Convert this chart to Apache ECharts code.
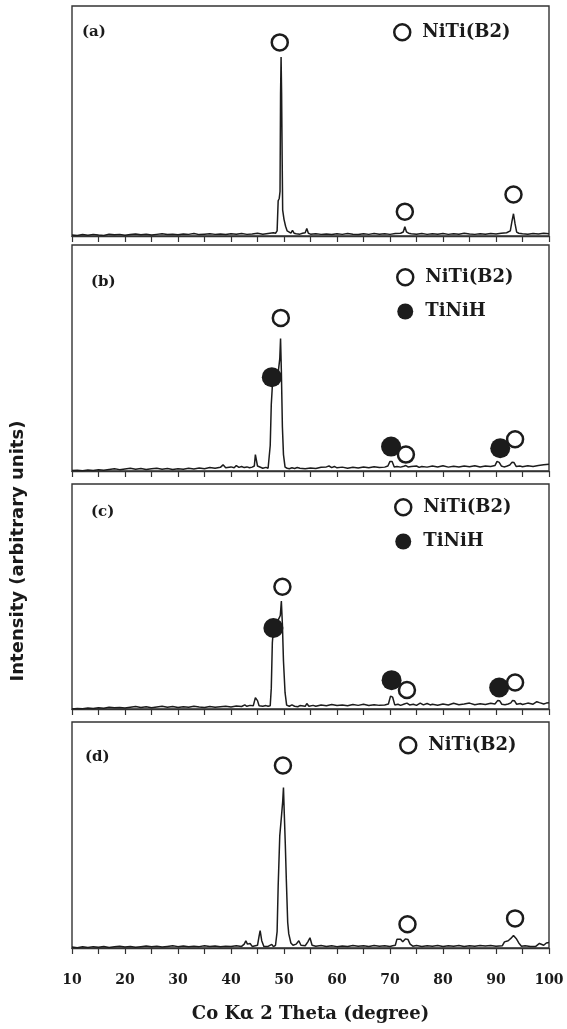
<!DOCTYPE html>
<html><head><meta charset="utf-8">
<script src="https://cdn.jsdelivr.net/npm/echarts@6/dist/echarts.min.js"></script>
<style>html,body{margin:0;padding:0;background:#fff}#c{width:567px;height:1029px}</style>
</head><body><div id="c"></div>
<script>
// ---- Data (2θ in degrees, intensity in arbitrary units 0-100 per panel) ----
const panelLabels = ['(a)', '(b)', '(c)', '(d)'];
const xTicks = [10, 20, 30, 40, 50, 60, 70, 80, 90, 100];
const phaseNames = ['NiTi(B2)', 'TiNiH'];

const traceA = [[10,1.2],[11,1.0],[12,1.4],[13,1.1],[14,1.5],[15,1.2],[16,1.0],[17,1.6],[18,1.3],[19,1.5],[20,1.1],[21,1.4],[22,1.7],[23,1.3],[24,1.6],[25,1.2],[26,1.5],[27,1.8],[28,1.4],[29,1.6],[30,1.3],[31,1.7],[32,1.5],[33,1.9],[34,1.4],[35,1.6],[36,1.8],[37,1.5],[38,1.7],[39,1.4],[40,1.8],[41,1.6],[42,1.9],[43,1.5],[44,1.7],[45,2.0],[46,1.6],[47,1.9],[48,2.2],[48.4,2.0],[48.7,3],[48.9,16],[49.1,17],[49.25,20],[49.35,62],[49.45,78],[49.55,62],[49.65,35],[49.75,12],[50.0,8],[50.3,5],[50.6,3],[50.9,2.2],[51.3,2.0],[51.6,3.2],[51.9,2.0],[52.3,1.8],[53,1.6],[53.5,2.0],[54.0,2.2],[54.3,4.0],[54.6,2.0],[55,1.6],[56,1.8],[57,1.5],[58,1.7],[59,1.4],[60,1.8],[61,1.5],[62,1.9],[63,1.6],[64,1.4],[65,1.8],[66,1.5],[67,1.9],[68,1.6],[69,1.8],[70,1.5],[71,1.9],[72,2.0],[72.5,2.5],[72.8,4.8],[73.1,2.6],[73.5,2.0],[74,1.8],[75,1.6],[76,1.9],[77,1.5],[78,1.8],[79,1.6],[80,1.9],[81,1.5],[82,1.8],[83,1.6],[84,2.0],[85,1.7],[86,1.5],[87,1.8],[88,1.6],[89,1.9],[90,1.7],[91,2.0],[92,2.2],[92.7,3],[93.0,7],[93.3,10.4],[93.6,6],[93.9,2.5],[94.3,2.0],[95,1.8],[96,1.6],[97,1.9],[98,1.7],[99,2.0],[100,1.8]];

const traceB = [[10,1.0],[11,1.1],[12,0.9],[13,1.2],[14,1.0],[15,1.3],[16,1.1],[17,1.5],[18,1.8],[19,1.4],[20,1.7],[21,2.0],[22,1.6],[23,1.9],[24,1.5],[25,1.8],[26,2.0],[27,1.6],[28,1.9],[29,1.5],[30,1.8],[31,1.6],[32,2.0],[33,1.7],[34,2.1],[35,1.8],[36,2.3],[37,2.0],[38,2.4],[38.5,3.5],[39,2.2],[40,2.6],[40.6,2.2],[41,3.2],[41.5,2.4],[42,2.8],[42.5,2.3],[43,2.6],[43.5,2.2],[44.0,2.5],[44.4,3.0],[44.6,8.0],[44.8,7.5],[45.0,3.0],[45.3,2.2],[46,2.0],[46.6,2.4],[47.0,2.0],[47.2,2.2],[47.4,12],[47.6,30],[47.8,38],[48.2,40],[48.8,42],[49.2,50],[49.35,59],[49.5,45],[49.7,20],[49.9,8],[50.2,2.5],[50.6,2.0],[51,1.8],[51.5,2.2],[52,1.9],[52.5,2.3],[53,2.0],[54,1.8],[55,2.1],[56,1.9],[57,2.4],[58,2.6],[58.5,3.0],[59,2.3],[59.5,2.8],[60,2.2],[61,2.5],[62,2.0],[63,2.4],[64,2.1],[65,2.6],[66,2.2],[67,2.7],[68,2.3],[69,2.5],[69.6,3],[70.0,5.0],[70.4,5.0],[70.8,2.6],[71.3,2.8],[72,2.5],[72.6,2.9],[73,3.2],[73.4,2.6],[74,2.8],[75,3.0],[75.5,2.4],[76,2.8],[77,2.5],[78,3.0],[79,2.6],[80,3.1],[81,2.5],[82,2.9],[83,2.6],[84,3.0],[85,2.7],[86,3.1],[87,2.6],[88,3.0],[89,2.8],[89.8,3.2],[90.2,5],[90.6,4.6],[91.0,3],[91.5,2.6],[92,2.9],[92.6,3.4],[93.0,4.6],[93.4,4.5],[93.8,2.8],[94.5,3.0],[95,2.7],[96,3.1],[97,2.8],[98,3.2],[99,3.5],[100,3.8]];

const traceC = [[10,0.8],[11,1.0],[12,0.9],[13,1.2],[14,1.0],[15,1.4],[16,1.1],[17,1.6],[18,1.3],[19,1.5],[20,1.2],[21,1.6],[22,1.9],[23,1.5],[24,1.8],[25,1.4],[26,1.7],[27,2.0],[28,1.6],[29,1.9],[30,1.5],[31,1.8],[32,1.6],[33,2.0],[34,1.7],[35,1.5],[36,1.9],[37,1.6],[38,1.8],[39,2.0],[40,1.7],[41,2.1],[42,1.9],[42.6,2.6],[43,2.0],[43.6,2.4],[44.2,2.2],[44.6,5.8],[45.0,4.5],[45.3,2.2],[46,2.0],[46.6,2.3],[47.0,2.0],[47.4,2.2],[47.6,10],[47.8,30],[48.0,36],[48.4,38],[48.9,40],[49.3,42],[49.5,48.4],[49.7,38],[49.9,22],[50.2,8],[50.5,2.5],[51,2.0],[51.5,2.6],[52,2.0],[52.6,1.8],[53,2.3],[54,2.0],[54.3,3.2],[54.7,2.0],[55.5,2.4],[56,2.0],[57,2.6],[58,2.2],[59,2.8],[60,2.3],[61,2.6],[62,2.2],[63,2.8],[64,2.4],[65,2.9],[66,2.3],[67,2.7],[68,2.4],[69,2.6],[69.7,3],[70.1,6.5],[70.5,6.0],[70.9,2.6],[71.5,2.9],[72,2.4],[72.7,3.0],[73.2,3.4],[73.7,2.6],[74.4,2.9],[75,2.4],[75.7,3.4],[76.3,2.6],[77,3.2],[77.6,2.6],[78,2.9],[79,2.5],[80,3.0],[81,2.6],[82,3.3],[83,2.7],[84,3.0],[85,3.4],[86,2.7],[87,3.1],[88,2.8],[89,3.3],[89.8,3.0],[90.3,4.5],[90.7,4.4],[91.1,2.9],[91.7,2.7],[92.3,3.0],[92.8,3.5],[93.1,4.5],[93.5,4.4],[93.9,2.9],[94.6,3.2],[95,2.8],[96,3.4],[97,2.9],[97.7,4.0],[98.2,3.6],[99,3.0],[99.5,3.4],[100,3.6]];

const traceD = [[10,1.2],[11,0.9],[12,1.3],[13,1.0],[14,1.4],[15,1.1],[16,1.5],[17,1.0],[18,1.3],[19,1.6],[20,1.2],[21,1.5],[22,1.1],[23,1.4],[24,1.7],[25,1.3],[26,1.6],[27,1.2],[28,1.5],[29,1.8],[30,1.4],[31,1.7],[32,1.3],[33,1.6],[34,1.4],[35,1.8],[36,1.5],[37,1.7],[38,1.4],[39,1.6],[40,1.5],[41,1.8],[42.0,1.5],[42.5,2.5],[42.8,4],[43.1,2.5],[43.6,2.8],[44.0,1.5],[45.0,2],[45.3,6],[45.5,8.4],[45.8,4],[46.2,1.5],[47.0,1.5],[47.7,2.4],[48.0,1.4],[48.4,2],[48.7,8],[48.9,28],[49.2,50],[49.5,58],[49.75,65],[49.9,71.2],[50.05,60],[50.25,46],[50.45,30],[50.7,12],[50.9,7],[51.1,6.8],[51.3,3],[51.7,2],[52.3,2.5],[52.8,4],[53.2,2],[54.0,1.8],[54.5,3.5],[54.9,5.3],[55.3,2],[56,1.6],[57,1.9],[58,1.5],[59,1.8],[60,1.4],[61,1.7],[62,1.5],[63,1.9],[64,1.6],[65,1.8],[66,1.5],[67,1.9],[68,1.6],[69,1.8],[70,1.5],[70.5,1.8],[71.0,2.0],[71.3,4.6],[72.0,4.6],[72.4,3.5],[72.9,4.8],[73.4,4.5],[73.8,2.5],[74.3,1.6],[75,1.9],[76,1.5],[77,1.8],[78,1.6],[79,1.9],[80,1.5],[81,1.8],[82,1.6],[83,1.9],[84,1.5],[85,1.8],[86,1.6],[87,1.9],[88,1.7],[89,1.9],[90,1.6],[91.2,1.8],[91.6,3.5],[92.3,4],[92.8,5],[93.3,6.3],[93.8,5],[94.3,3],[94.8,1.6],[95.5,1.8],[96.5,1.5],[97.5,1.5],[98.2,2.8],[99,2.0],[99.5,3.0],[100,3.2]];

// peak markers [2θ, height]
const nitiA = [[49.2,84.3],[72.8,11.3],[93.3,18.7]];
const nitiB = [[49.4,68],[73.0,8],[93.6,14.7]];
const hydB  = [[47.7,42],[70.2,11.5],[90.8,10.8]];
const nitiC = [[49.7,54.7],[73.2,9.2],[93.6,12.5]];
const hydC  = [[48.0,36.5],[70.3,13.5],[90.6,10.3]];
const nitiD = [[49.8,80.9],[73.3,11.2],[93.6,13.8]];

// ---- Layout ----
const grids = [
  {left:72, right:18, top:6,   height:230},
  {left:72, right:18, top:245, height:226},
  {left:72, right:18, top:484, height:225},
  {left:72, right:18, top:722, height:226}
];
const traces = [traceA, traceB, traceC, traceD];
const nitiSets = [nitiA, nitiB, nitiC, nitiD];
const hydSets = [null, hydB, hydC, null];

const ink = '#1c1c1c';
const serif = 'DejaVu Serif';

const option = {
  animation: false,
  backgroundColor: '#fff',
  grid: grids.map(g => Object.assign({show:true, borderColor:'#333', borderWidth:1.4, backgroundColor:'transparent'}, g)),
  xAxis: grids.map((g, i) => ({
    type:'value', gridIndex:i, min:10, max:100, interval:5,
    axisLine:{show:true, lineStyle:{color:'#333', width:1.4}},
    axisTick:{show:true, inside:false, length:6, lineStyle:{color:'#333', width:1.2}},
    splitLine:{show:false},
    axisLabel:{show:i===3, margin:25, color:'#1a1a1a', fontFamily:serif, fontWeight:'bold', fontSize:14,
      formatter: v => xTicks.indexOf(v) >= 0 ? String(v) : ''},
    name: i===3 ? 'Co Kα 2 Theta (degree)' : '',
    nameLocation:'middle', nameGap:57,
    nameTextStyle:{color:'#1a1a1a', fontFamily:serif, fontWeight:'bold', fontSize:18}
  })),
  yAxis: grids.map((g, i) => ({
    type:'value', gridIndex:i, min:0.8, max:100,
    axisLine:{show:false}, axisTick:{show:false}, axisLabel:{show:false}, splitLine:{show:false}
  })),
  title: panelLabels.map((t, i) => ({
    text:t, left:[77,86,86,80][i], top:[20,270,500,745][i],
    textStyle:{color:'#1a1a1a', fontFamily:serif, fontWeight:'bold', fontSize:15}
  })),
  legend: [0,1,2,3].map(i => ({
    left:[388,391,389,394][i], top:[18,263,493,731][i],
    orient:'vertical', itemWidth:30, itemHeight:16, itemGap:16,
    selectedMode:false,
    textStyle:{color:'#1a1a1a', fontFamily:serif, fontWeight:'bold', fontSize:18},
    data: (hydSets[i] ? phaseNames : [phaseNames[0]]).map((n, k) => ({
      name:n, icon:'circle',
      itemStyle: k===0 ? {color:'#fff', borderColor:ink, borderWidth:2.5, opacity:1} : {color:ink, borderColor:ink, borderWidth:0, opacity:1}
    }))
  })),
  graphic: [{
    type:'text', x:18, y:551, rotation:Math.PI/2,
    style:{text:'Intensity (arbitrary units)', fill:'#1a1a1a', font:'bold 18px "DejaVu Sans"', textAlign:'center', textVerticalAlign:'middle'}
  }],
  series: []
};

traces.forEach((tr, i) => {
  option.series.push({
    type:'line', name:'trace'+i, xAxisIndex:i, yAxisIndex:i, data:tr,
    showSymbol:false, symbol:'none', smooth:false, z:2,
    lineStyle:{color:ink, width:1.5}
  });
  if (hydSets[i]) option.series.push({
    type:'scatter', name:'TiNiH', xAxisIndex:i, yAxisIndex:i, data:hydSets[i],
    symbol:'circle', symbolSize:20, z:3,
    itemStyle:{color:ink, borderColor:ink, borderWidth:0, opacity:1}
  });
  option.series.push({
    type:'scatter', name:'NiTi(B2)', xAxisIndex:i, yAxisIndex:i, data:nitiSets[i],
    symbol:'circle', symbolSize:16, z:4,
    itemStyle:{color:'#fff', borderColor:ink, borderWidth:2.5, opacity:1}
  });
});

const chart = echarts.init(document.getElementById('c'), null, {renderer:'canvas'});
chart.setOption(option);
</script>
</body></html>
